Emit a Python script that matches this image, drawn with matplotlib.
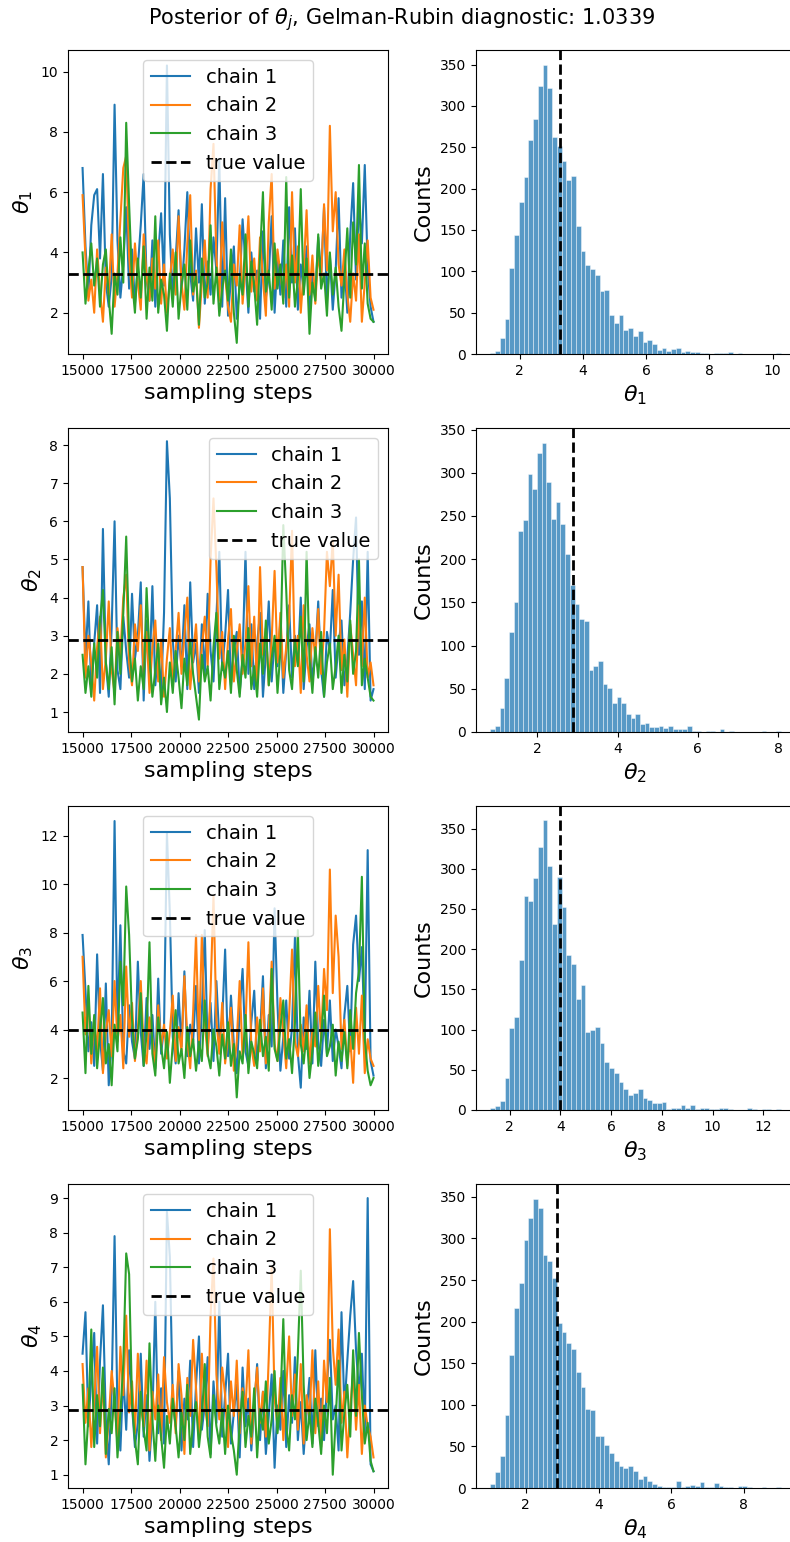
import numpy as np
import matplotlib
matplotlib.use("Agg")
import matplotlib.pyplot as plt

# thinned posterior draws, one value every 150 steps from 15000 to 30000
steps = np.arange(15000, 30001, 150)

theta1_chain1 = [6.8, 4.2, 2.6, 4.9, 5.9, 6.1, 3.8, 6.6, 3.0, 2.2,
                 3.2, 8.9, 4.4, 2.5, 3.6, 5.5, 2.8, 4.1, 2.3, 3.5,
                 4.9, 6.6, 3.1, 2.4, 4.4, 2.2, 3.9, 5.3, 2.9, 10.2,
                 4.6, 2.5, 3.8, 5.4, 2.7, 4.1, 6.0, 3.3, 2.4, 4.8,
                 3.0, 5.6, 2.3, 3.7, 2.6, 4.5, 3.4, 7.1, 2.2, 5.8,
                 1.9, 3.1, 4.2, 1.8, 2.9, 5.1, 3.6, 2.0, 4.0, 2.7,
                 3.4, 1.8, 4.7, 2.5, 3.2, 5.2, 2.0, 3.8, 2.6, 4.4,
                 2.2, 5.5, 3.0, 4.8, 2.1, 3.6, 2.7, 4.2, 1.9, 3.3,
                 2.6, 4.5, 3.2, 5.5, 2.4, 3.9, 2.1, 3.4, 5.8, 2.5,
                 3.7, 2.0, 4.6, 6.3, 3.1, 5.6, 4.3, 6.9, 3.5, 2.2, 1.7]
theta1_chain2 = [5.9, 3.8, 2.4, 3.1, 2.0, 4.1, 2.7, 1.7, 3.5, 2.6,
                 4.6, 2.2, 3.3, 5.1, 6.8, 7.2, 3.9, 2.5, 4.3, 3.0,
                 2.1, 4.6, 3.2, 2.4, 3.8, 2.8, 4.4, 2.3, 3.6, 2.0,
                 3.1, 4.1, 2.6, 5.2, 3.0, 2.1, 4.3, 5.9, 2.6, 3.4,
                 1.5, 3.0, 4.4, 2.5, 6.1, 7.6, 3.8, 2.4, 5.0, 3.2,
                 2.2, 1.7, 3.6, 2.9, 4.9, 2.3, 3.5, 5.2, 2.7, 3.8,
                 2.4, 4.5, 3.1, 1.9, 5.0, 6.6, 2.8, 4.1, 3.3, 2.5,
                 3.6, 2.2, 6.0, 3.0, 4.2, 2.0, 3.4, 5.4, 2.6, 3.9,
                 2.3, 4.0, 3.1, 5.6, 3.4, 8.2, 4.7, 6.0, 3.6, 2.9,
                 4.1, 2.6, 1.7, 3.3, 2.4, 4.6, 1.7, 3.0, 4.4, 2.5, 2.1]
theta1_chain3 = [4.0, 2.3, 3.4, 4.3, 2.9, 3.8, 2.2, 3.6, 4.1, 2.5,
                 1.3, 3.3, 2.6, 4.5, 3.0, 8.3, 5.6, 3.1, 2.0, 3.8,
                 2.5, 4.2, 1.8, 3.5, 2.4, 5.2, 2.0, 3.1, 2.6, 1.4,
                 3.3, 2.2, 4.0, 1.8, 2.9, 3.6, 2.1, 4.4, 2.7, 3.2,
                 1.6, 3.8, 2.5, 3.0, 4.9, 2.3, 3.5, 1.9, 2.8, 3.4,
                 2.4, 4.1, 2.0, 1.0, 3.2, 2.6, 4.6, 2.2, 3.7, 2.9,
                 1.6, 3.9, 6.0, 2.7, 3.4, 2.1, 4.3, 2.8, 3.6, 2.3,
                 6.5, 2.5, 3.9, 2.2, 3.1, 6.1, 2.6, 3.8, 1.3, 3.0,
                 2.4, 4.6, 2.8, 3.3, 1.9, 4.0, 2.6, 3.5, 2.2, 1.4,
                 3.1, 4.8, 2.5, 5.0, 3.6, 6.9, 2.8, 4.3, 2.3, 1.8, 1.7]

theta2_chain1 = [4.8, 2.4, 3.9, 1.6, 2.8, 3.8, 1.5, 5.8, 2.3, 1.4,
                 3.2, 6.0, 2.1, 1.6, 3.5, 2.6, 1.9, 4.1, 2.4, 3.0,
                 4.4, 1.3, 3.4, 2.0, 4.3, 1.7, 2.7, 1.5, 3.6, 8.1,
                 6.6, 2.9, 1.8, 3.0, 2.2, 3.8, 1.6, 4.4, 2.3, 2.8,
                 1.5, 3.3, 2.0, 4.1, 2.6, 1.8, 3.5, 5.2, 2.1, 3.0,
                 4.2, 1.7, 2.6, 3.1, 1.5, 2.4, 5.2, 2.0, 3.3, 1.6,
                 2.8, 3.6, 1.4, 2.5, 3.9, 1.8, 2.9, 2.2, 3.4, 1.5,
                 2.6, 3.8, 1.9, 3.0, 2.3, 4.0, 1.6, 2.7, 3.3, 1.8,
                 2.5, 3.9, 2.1, 1.4, 3.1, 2.6, 4.2, 1.9, 2.8, 3.4,
                 1.7, 2.4, 3.6, 5.0, 6.1, 2.5, 3.9, 1.6, 5.2, 1.3, 1.6]
theta2_chain2 = [4.8, 1.9, 3.0, 2.3, 1.3, 2.7, 3.5, 1.6, 2.4, 3.9,
                 2.1, 1.5, 3.2, 2.5, 4.0, 4.6, 2.3, 1.7, 3.3, 2.6,
                 3.8, 2.0, 3.1, 1.5, 2.7, 3.4, 1.8, 2.9, 1.4, 2.4,
                 3.2, 1.7, 2.6, 3.6, 2.0, 3.0, 4.0, 1.6, 2.5, 3.3,
                 1.8, 2.7, 3.5, 2.2, 5.0, 6.6, 4.8, 2.4, 3.1, 1.6,
                 2.9, 3.7, 1.8, 2.6, 3.3, 2.0, 2.8, 4.3, 2.2, 3.5,
                 1.6, 4.8, 2.5, 3.2, 1.7, 2.9, 4.7, 2.3, 3.6, 1.9,
                 2.7, 3.4, 5.75, 2.2, 3.0, 1.5, 3.8, 2.5, 1.8, 3.2,
                 2.4, 3.7, 2.0, 3.1, 5.2, 4.3, 5.5, 3.0, 4.6, 2.1,
                 2.9, 1.4, 3.3, 2.5, 1.7, 3.8, 2.2, 4.0, 1.9, 2.3, 1.7]
theta2_chain3 = [2.5, 1.5, 2.2, 1.4, 2.8, 1.9, 3.4, 4.2, 2.3, 1.6,
                 2.7, 1.2, 3.1, 2.0, 3.6, 5.6, 2.9, 1.8, 2.4, 1.3,
                 2.2, 1.6, 4.25, 2.5, 1.4, 2.1, 2.8, 1.2, 1.9, 1.0,
                 2.3, 1.5, 2.6, 1.9, 1.1, 2.4, 1.7, 2.9, 2.0, 1.4,
                 0.8, 2.5, 1.8, 2.2, 1.3, 2.7, 3.6, 1.6, 2.3, 1.9,
                 2.6, 1.5, 3.0, 2.1, 1.4, 2.5, 1.9, 3.2, 1.6, 2.2,
                 1.4, 2.8, 2.0, 3.4, 1.7, 2.4, 3.0, 1.5, 2.6, 5.9,
                 4.2, 2.1, 1.6, 2.9, 2.2, 3.5, 1.8, 5.2, 2.4, 1.5,
                 2.7, 1.9, 3.1, 1.4, 2.3, 2.8, 1.6, 2.2, 3.0, 1.5,
                 2.5, 1.8, 3.4, 2.0, 2.6, 5.0, 1.7, 2.4, 1.9, 1.4, 1.3]

theta3_chain1 = [7.9, 5.6, 3.1, 4.3, 2.5, 7.1, 3.6, 2.3, 5.9, 1.7,
                 3.4, 12.6, 4.0, 8.3, 3.1, 2.6, 5.0, 3.5, 2.8, 6.8,
                 3.9, 2.5, 5.3, 3.2, 4.6, 2.4, 6.1, 3.0, 4.1, 12.1,
                 8.8, 3.7, 2.6, 5.5, 3.3, 6.4, 2.9, 4.2, 3.5, 5.8,
                 2.6, 4.7, 8.1, 3.2, 5.1, 2.7, 6.0, 3.6, 4.4, 7.3,
                 2.9, 5.4, 3.4, 2.2, 4.8, 6.5, 3.1, 2.5, 4.3, 5.6,
                 2.7, 3.8, 6.2, 2.4, 4.6, 3.3, 9.0, 5.0, 2.3, 3.7,
                 5.2, 2.8, 4.1, 7.8, 3.0, 1.6, 4.5, 3.2, 5.6, 2.6,
                 6.8, 3.5, 2.5, 4.4, 3.0, 5.2, 2.7, 4.0, 3.3, 2.4,
                 4.6, 5.8, 3.1, 7.5, 8.7, 6.0, 7.4, 3.5, 11.4, 2.7, 2.1]
theta3_chain2 = [7.0, 3.8, 5.2, 2.6, 4.4, 3.1, 5.7, 2.2, 3.9, 4.8,
                 2.9, 6.0, 3.5, 4.6, 2.4, 6.6, 3.7, 5.1, 2.7, 4.0,
                 6.0, 3.2, 2.6, 4.5, 3.6, 2.5, 5.0, 3.3, 4.2, 2.8,
                 3.9, 5.4, 2.7, 4.1, 3.1, 6.2, 3.6, 2.4, 4.7, 7.9,
                 3.4, 7.9, 4.3, 2.9, 5.6, 9.5, 4.4, 3.0, 5.1, 2.6,
                 3.7, 4.9, 2.3, 3.5, 6.0, 2.8, 4.1, 7.6, 3.3, 2.5,
                 4.5, 3.1, 5.7, 2.6, 3.9, 6.8, 3.4, 2.7, 5.3, 3.8,
                 2.4, 4.6, 7.3, 3.5, 2.9, 4.2, 3.1, 5.0, 2.6, 4.0,
                 3.3, 5.8, 3.6, 6.5, 4.8, 10.6, 5.5, 8.7, 7.0, 3.2,
                 4.4, 2.5, 3.7, 1.8, 4.9, 3.0, 5.4, 2.2, 3.6, 2.8, 2.5]
theta3_chain3 = [4.7, 2.2, 5.8, 3.0, 4.6, 2.4, 3.9, 5.3, 2.6, 3.4,
                 1.7, 4.2, 3.1, 6.8, 5.0, 9.9, 7.9, 4.4, 2.8, 3.6,
                 5.5, 2.5, 3.8, 7.6, 3.0, 2.1, 4.5, 3.3, 2.4, 3.9,
                 1.8, 3.4, 4.8, 2.6, 3.2, 2.0, 4.1, 2.9, 3.6, 2.3,
                 3.5, 2.7, 5.2, 3.0, 2.4, 4.0, 3.3, 2.1, 3.8, 2.8,
                 4.3, 2.5, 3.4, 1.2, 3.1, 2.6, 4.6, 2.2, 3.5, 3.0,
                 2.4, 4.4, 2.9, 3.7, 2.3, 6.5, 3.2, 2.7, 4.1, 5.2,
                 2.8, 3.6, 2.2, 4.3, 8.1, 3.4, 2.6, 3.9, 2.0, 3.1,
                 4.7, 2.5, 3.6, 5.4, 2.9, 3.3, 4.2, 2.1, 3.5, 2.7,
                 3.9, 2.4, 4.8, 3.2, 5.5, 6.4, 10.3, 3.6, 2.3, 1.7, 2.0]

theta4_chain1 = [4.5, 5.7, 2.4, 3.8, 5.1, 1.9, 4.3, 5.9, 2.6, 1.3,
                 3.4, 7.9, 2.8, 1.7, 3.9, 2.3, 4.6, 3.0, 1.8, 2.5,
                 4.5, 2.1, 3.3, 1.4, 2.7, 6.0, 2.2, 3.5, 1.9, 8.6,
                 7.3, 3.1, 2.4, 4.0, 1.7, 3.2, 2.6, 4.3, 1.8, 3.6,
                 5.0, 2.3, 3.0, 4.4, 1.6, 3.7, 2.5, 6.0, 2.1, 3.3,
                 4.5, 1.9, 2.8, 3.6, 1.5, 4.1, 2.4, 3.2, 1.7, 2.9,
                 4.2, 2.0, 3.4, 1.6, 2.7, 3.9, 1.2, 3.0, 2.3, 4.0,
                 1.8, 3.3, 2.5, 4.4, 2.0, 3.1, 1.6, 2.8, 3.8, 1.9,
                 4.6, 2.4, 3.2, 2.0, 3.6, 4.9, 2.6, 3.0, 1.7, 5.7,
                 2.9, 4.3, 5.6, 6.6, 4.6, 3.4, 4.5, 2.2, 9.0, 1.3, 1.1]
theta4_chain2 = [4.2, 2.5, 3.5, 1.8, 3.1, 4.7, 2.2, 3.8, 1.5, 2.6,
                 4.0, 3.1, 1.9, 4.7, 3.3, 5.6, 2.8, 3.7, 2.2, 4.5,
                 3.0, 2.4, 4.3, 1.7, 3.4, 2.6, 3.9, 2.0, 4.4, 3.1,
                 2.5, 3.6, 2.2, 4.2, 3.3, 1.6, 3.8, 2.7, 4.9, 3.5,
                 2.0, 4.5, 3.0, 2.4, 5.6, 7.25, 3.9, 2.6, 4.1, 3.3,
                 1.8, 3.7, 2.7, 4.3, 2.2, 3.5, 2.9, 4.6, 1.9, 3.1,
                 4.1, 2.5, 3.4, 2.1, 4.4, 7.0, 3.2, 2.4, 3.8, 2.0,
                 3.5, 5.0, 2.7, 3.9, 2.3, 4.2, 1.9, 3.3, 2.6, 4.6,
                 2.2, 3.7, 1.8, 4.3, 3.1, 8.1, 4.7, 3.6, 5.2, 2.5,
                 3.4, 1.5, 2.9, 4.0, 2.3, 3.6, 1.6, 3.0, 2.4, 2.1, 1.5]
theta4_chain3 = [3.6, 1.3, 2.7, 5.2, 1.8, 3.3, 2.4, 4.1, 1.6, 2.9,
                 2.2, 3.5, 1.5, 2.8, 4.2, 7.4, 6.8, 3.1, 2.0, 1.3,
                 3.4, 2.3, 1.7, 4.8, 2.6, 1.4, 3.0, 2.1, 1.2, 2.7,
                 1.9, 3.2, 2.4, 1.5, 2.8, 2.0, 3.6, 1.6, 2.5, 3.1,
                 1.8, 2.6, 4.2, 2.1, 1.5, 3.3, 2.4, 1.9, 2.9, 1.6,
                 3.0, 2.2, 1.7, 1.0, 2.5, 3.4, 1.8, 2.7, 2.1, 3.5,
                 1.5, 2.9, 2.3, 3.7, 1.9, 2.6, 4.0, 2.2, 3.1, 5.5,
                 2.4, 1.7, 3.3, 2.6, 4.5, 6.9, 3.6, 2.0, 2.8, 1.8,
                 3.2, 2.5, 1.6, 3.0, 2.2, 3.8, 1.0, 2.6, 4.3, 1.7,
                 2.8, 3.6, 2.1, 4.6, 2.7, 5.1, 3.3, 1.9, 2.5, 1.4, 1.1]

# histogram counts of all chains pooled (equal-width bins between lo and hi)
hist1_range = (1.074, 10.25)
hist1_counts = [1, 4, 20, 42, 104, 144, 184, 214, 259, 284, 324, 350, 322, 263, 252,
                234, 211, 215, 155, 124, 108, 103, 95, 76, 78, 47, 38, 47, 29, 31,
                22, 28, 15, 17, 12, 5, 7, 4, 6, 7, 3, 4, 2, 2, 1, 1, 0, 1, 1, 1,
                2, 0, 1, 0, 0, 0, 0, 0, 0, 0, 1]
hist2_range = (0.826, 8.06)
hist2_counts = [3, 7, 28, 62, 116, 150, 233, 245, 299, 281, 323, 335, 289, 246, 266,
                241, 206, 170, 148, 131, 128, 72, 76, 82, 55, 51, 34, 40, 33, 21,
                16, 21, 9, 10, 6, 6, 7, 5, 7, 3, 3, 3, 7, 1, 1, 0, 1, 1, 0, 3,
                0, 1, 0, 0, 0, 0, 0, 0, 1, 0, 0, 1]
hist3_range = (1.24, 12.68)
hist3_counts = [3, 5, 11, 40, 102, 116, 187, 266, 260, 288, 327, 360, 303, 231, 290,
                253, 193, 181, 138, 156, 97, 99, 103, 83, 59, 52, 46, 35, 26, 19,
                21, 26, 15, 12, 8, 8, 10, 1, 3, 3, 6, 2, 6, 1, 2, 2, 1, 1, 2, 2,
                1, 0, 0, 0, 2, 1, 0, 1, 1, 0, 1]
hist4_range = (1.02, 9.01)
hist4_counts = [5, 19, 38, 88, 160, 217, 246, 298, 325, 348, 337, 280, 273, 253, 198,
                187, 174, 167, 139, 122, 95, 94, 63, 62, 52, 42, 32, 27, 24, 27,
                21, 11, 15, 8, 5, 2, 1, 1, 1, 8, 1, 2, 4, 2, 7, 1, 1, 6, 2, 1,
                1, 0, 2, 3, 1, 0, 0, 1, 0, 0, 1]

true_values = [3.29, 2.885, 3.99, 2.86]
trace_ylims = [(0.63, 10.71), (0.476, 8.445), (0.683, 13.22), (0.615, 9.404)]
legend_locs = ["upper center", "upper right", "upper center", "upper center"]
gelman_rubin = 1.0339

chains = [
    [theta1_chain1, theta1_chain2, theta1_chain3],
    [theta2_chain1, theta2_chain2, theta2_chain3],
    [theta3_chain1, theta3_chain2, theta3_chain3],
    [theta4_chain1, theta4_chain2, theta4_chain3],
]
hists = [
    (hist1_range, hist1_counts),
    (hist2_range, hist2_counts),
    (hist3_range, hist3_counts),
    (hist4_range, hist4_counts),
]

fig = plt.figure(figsize=(7.9, 15.42), dpi=100)
fig.suptitle(r"Posterior of $\theta_j$, Gelman-Rubin diagnostic: %.4f" % gelman_rubin,
             x=0.508, y=0.987, va="center", fontsize=15)

row_bottoms = [0.7704, 0.5253, 0.2802, 0.0350]
row_height = 0.1971

for j in range(4):
    # trace plot
    ax = fig.add_axes([0.0861, row_bottoms[j], 0.4051, row_height])
    for c, chain in enumerate(chains[j]):
        ax.plot(steps, chain, label="chain %d" % (c + 1))
    ax.axhline(true_values[j], color="k", ls="--", lw=2, label="true value")
    ax.set_ylim(*trace_ylims[j])
    ax.set_xticks([15000, 17500, 20000, 22500, 25000, 27500, 30000])
    ax.set_xlabel("sampling steps", fontsize=16)
    ax.set_ylabel(r"$\theta_%d$" % (j + 1), fontsize=16)
    ax.legend(loc=legend_locs[j], fontsize=14)

    # histogram of pooled samples
    ax = fig.add_axes([0.6022, row_bottoms[j], 0.4042, row_height])
    (lo, hi), counts = hists[j]
    edges = np.linspace(lo, hi, len(counts) + 1)
    ax.bar(edges[:-1], counts, width=np.diff(edges), align="edge",
           color="#1f77b4", alpha=0.75, edgecolor="white", linewidth=0.4)
    ax.axvline(true_values[j], color="k", ls="--", lw=2)
    ax.set_xlabel(r"$\theta_%d$" % (j + 1), fontsize=16)
    ax.set_ylabel("Counts", fontsize=16)

fig.savefig("out.png", dpi=100)
